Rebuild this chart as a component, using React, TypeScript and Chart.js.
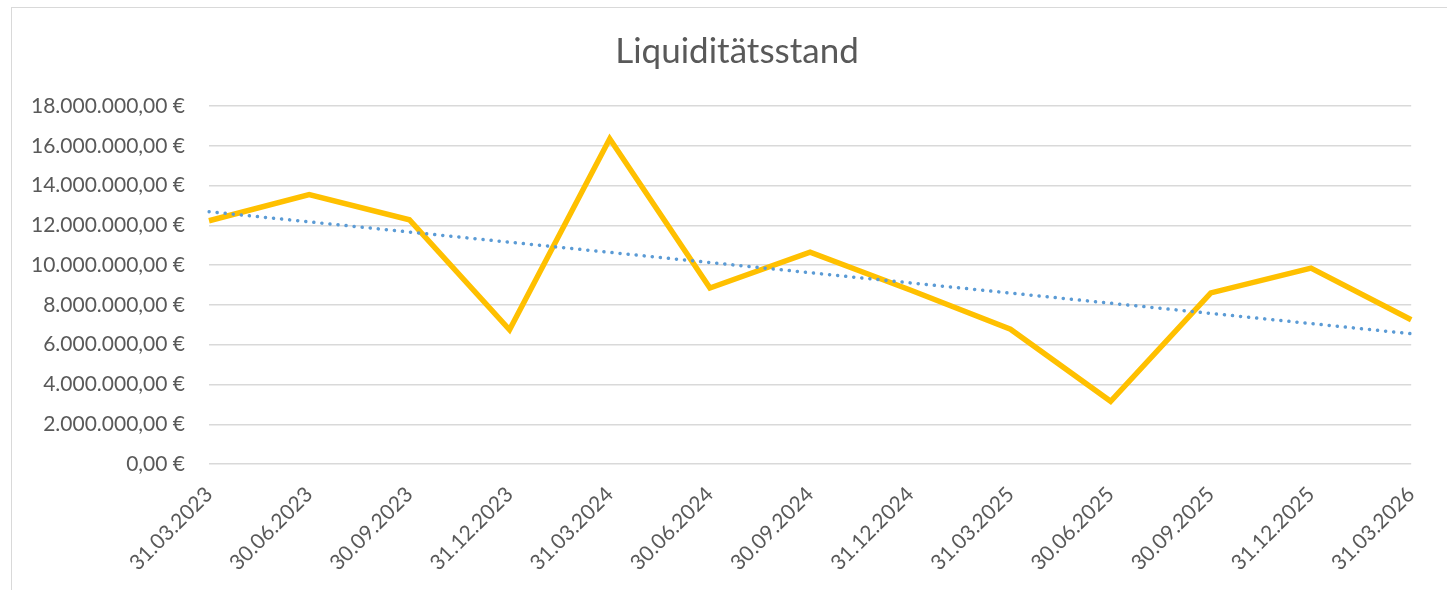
import React, { useEffect, useRef } from "react";
import { Chart, registerables } from "chart.js";

Chart.register(...registerables);

const categories = [
  "31.03.2023", "30.06.2023", "30.09.2023", "31.12.2023", "31.03.2024",
  "30.06.2024", "30.09.2024", "31.12.2024", "31.03.2025", "30.06.2025",
  "30.09.2025", "31.12.2025", "31.03.2026",
];

const liquidity = [
  12230000, 13540000, 12280000, 6750000, 16350000,
  8850000, 10650000, 8750000, 6780000, 3150000,
  8600000, 9850000, 7250000,
];

const yTicks = { min: 0, max: 18000000, step: 2000000 };

const titleText = "Liquiditätsstand";

// Linear trend (least squares) of the liquidity series, as the spreadsheet's trendline
function linearTrend(values: number[]): number[] {
  const n = values.length;
  const mx = (n - 1) / 2;
  const my = values.reduce((a, b) => a + b, 0) / n;
  let sxy = 0;
  let sxx = 0;
  values.forEach((v, i) => {
    sxy += (i - mx) * (v - my);
    sxx += (i - mx) * (i - mx);
  });
  const slope = sxy / sxx;
  return values.map((_, i) => my + slope * (i - mx));
}

function formatEuro(v: number): string {
  const fixed = Math.abs(v).toFixed(2);
  const [intPart, dec] = fixed.split(".");
  const withDots = intPart.replace(/\B(?=(\d{3})+(?!\d))/g, ".");
  return (v < 0 ? "-" : "") + withDots + "," + dec + " €";
}

const FONT = "Lato, 'Open Sans', sans-serif";
const TEXT = "#595959";

const titlePlugin = {
  id: "customTitle",
  afterDraw(chart: any) {
    const ctx = chart.ctx;
    ctx.save();
    ctx.font = `35px ${FONT}`;
    ctx.fillStyle = TEXT;
    ctx.textAlign = "center";
    ctx.textBaseline = "alphabetic";
    ctx.fillText(titleText, 737, 63);
    ctx.restore();
  },
};

export default function App() {
  const ref = useRef<HTMLCanvasElement | null>(null);

  useEffect(() => {
    if (!ref.current) return;
    const chart = new Chart(ref.current, {
      type: "line",
      data: {
        labels: categories,
        datasets: [
          {
            label: "Trend",
            data: linearTrend(liquidity),
            borderColor: "#5B9BD5",
            borderWidth: 3.5,
            borderDash: [0.1, 8],
            borderCapStyle: "round",
            pointRadius: 0,
            fill: false,
            tension: 0,
            order: 0,
          },
          {
            label: "Liquiditätsstand",
            data: liquidity,
            borderColor: "#FFC000",
            borderWidth: 5.5,
            pointRadius: 0,
            fill: false,
            tension: 0,
            order: 1,
          },
        ],
      },
      options: {
        responsive: false,
        animation: false,
        events: [],
        layout: { padding: { left: 0, right: 35, top: 106, bottom: 0 } },
        plugins: {
          legend: { display: false },
          tooltip: { enabled: false },
          title: { display: false },
        },
        scales: {
          x: {
            offset: false,
            grid: { display: false, drawTicks: false },
            border: { display: false },
            ticks: {
              color: TEXT,
              font: { family: FONT, size: 21 },
              maxRotation: 45,
              minRotation: 45,
              padding: 18,
              autoSkip: false,
            },
            afterFit: (scale: any) => {
              scale.height = 126;
            },
          },
          y: {
            min: yTicks.min,
            max: yTicks.max,
            grid: { color: "#d9d9d9", lineWidth: 1.4, drawTicks: false },
            border: { display: false },
            ticks: {
              stepSize: yTicks.step,
              color: TEXT,
              font: { family: FONT, size: 21 },
              padding: 24,
              callback: (v: any) => formatEuro(Number(v)),
            },
            afterFit: (scale: any) => {
              scale.width = 209;
            },
          },
        },
      },
      plugins: [titlePlugin],
    });
    return () => chart.destroy();
  }, []);

  return (
    <div
      style={{
        position: "fixed",
        left: 0,
        top: 0,
        width: 1447,
        height: 590,
        overflow: "hidden",
        background: "#ffffff",
      }}
    >
      <div
        style={{
          position: "absolute",
          left: 11,
          top: 7,
          width: 1600,
          height: 800,
          border: "1px solid #d9d9d9",
        }}
      />
      <canvas
        ref={ref}
        width={1447}
        height={590}
        style={{ position: "absolute", left: 0, top: 0 }}
      />
    </div>
  );
}
